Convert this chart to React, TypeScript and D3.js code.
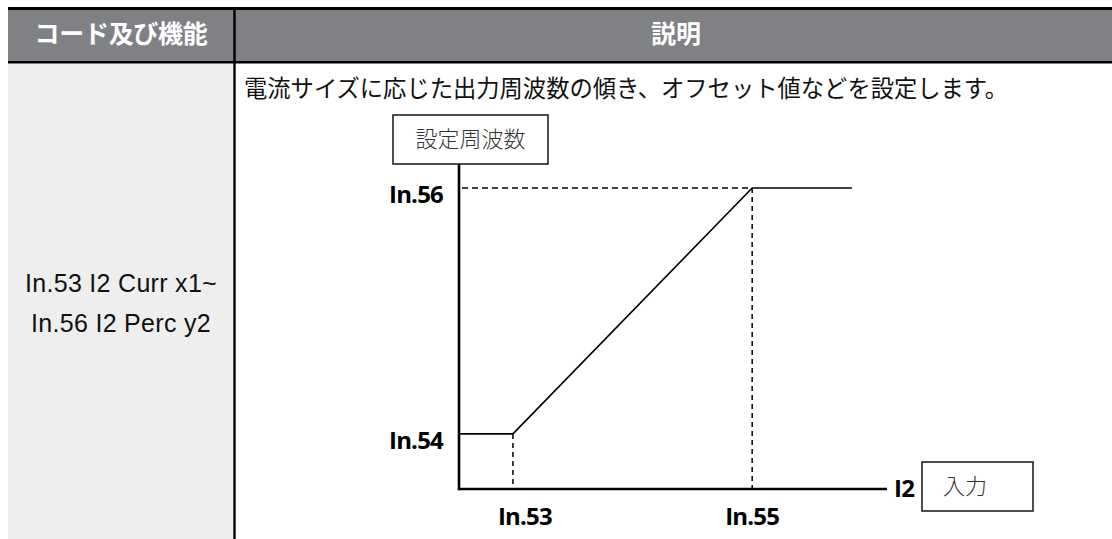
import React from "react";
import * as d3 from "d3";

// ---- data ----
const headerLabels = ["コード及び機能", "説明"];
const codeLines = ["In.53 I2 Curr x1~", "In.56 I2 Perc y2"];
const description = "電流サイズに応じた出力周波数の傾き、オフセット値などを設定します。";
const curveX = [0, 12.6, 68.5, 91.8];
const curveY = [18.3, 18.3, 100, 100];
const xTickLabels = ["In.53", "In.55"];
const xTickValues = [12.6, 68.5];
const yTickLabels = ["In.54", "In.56"];
const yTickValues = [18.3, 100];
const yAxisLabel = "設定周波数";
const xAxisName = "I2";
const xAxisLabel = "入力";

const W = 1112;
const H = 539;

export default function App() {
  const x = d3.scaleLinear().domain([0, 100]).range([459, 887]);
  const y = d3.scaleLinear().domain([0, 100]).range([489, 188]);
  const pts: [number, number][] = curveX.map((v, i) => [v, curveY[i]]);
  const line = d3
    .line<[number, number]>()
    .x((d) => x(d[0]))
    .y((d) => y(d[1]));

  const jp = "'Noto Sans CJK JP', sans-serif";
  const lab = "'Open Sans', sans-serif";
  const xLabelDx = [12, 0];

  return (
    <svg
      width={W}
      height={H}
      style={{ position: "absolute", left: 0, top: 0, display: "block" }}
    >
      <rect x={0} y={0} width={W} height={H} fill="#fff" />
      {/* table */}
      <rect x={8} y={10} width={W - 8} height={51} fill="#808185" />
      <rect x={8} y={63} width={225} height={H - 63} fill="#eeeeee" />
      <rect x={8} y={7} width={W - 8} height={3} fill="#000" />
      <rect x={8} y={61} width={W - 8} height={2.5} fill="#000" />
      <rect x={233.3} y={10} width={2.4} height={H - 10} fill="#000" />
      <text
        x={121}
        y={43}
        textAnchor="middle"
        fontFamily={jp}
        fontWeight={700}
        fontSize={25}
        letterSpacing={-0.3}
        fill="#fff"
      >
        {headerLabels[0]}
      </text>
      <text
        x={676}
        y={43}
        textAnchor="middle"
        fontFamily={jp}
        fontWeight={700}
        fontSize={25}
        fill="#fff"
      >
        {headerLabels[1]}
      </text>
      {codeLines.map((t, i) => (
        <text
          key={i}
          x={121}
          y={292 + i * 40}
          textAnchor="middle"
          fontFamily="'Liberation Sans', Arial, sans-serif"
          fontSize={25}
          letterSpacing={0.3}
          fill="#111"
        >
          {t}
        </text>
      ))}
      <text x={244} y={97} fontFamily={jp} fontSize={23.3} fill="#111">
        {description}
      </text>

      {/* chart */}
      {/* dashed guides */}
      <line
        x1={x(0) + 3}
        x2={x(xTickValues[1])}
        y1={y(yTickValues[1])}
        y2={y(yTickValues[1])}
        stroke="#000"
        strokeWidth={1.5}
        strokeDasharray="6,4"
      />
      {xTickValues.map((v, i) => (
        <line
          key={i}
          x1={x(v)}
          x2={x(v)}
          y1={y(curveY[i === 0 ? 1 : 2])}
          y2={y(0)}
          stroke="#000"
          strokeWidth={1.5}
          strokeDasharray="5,4"
        />
      ))}
      <path d={line(pts) || ""} fill="none" stroke="#000" strokeWidth={1.6} />
      {/* axes */}
      <line x1={x(0)} x2={x(0)} y1={y(0) + 1.3} y2={y(108)} stroke="#000" strokeWidth={2.6} />
      <line x1={x(0)} x2={x(100)} y1={y(0)} y2={y(0)} stroke="#000" strokeWidth={2.6} />

      {yTickValues.map((v, i) => (
        <text
          key={i}
          x={443}
          y={y(v) + 15}
          textAnchor="end"
          fontFamily={lab}
          fontWeight={700}
          fontSize={24}
          letterSpacing={-0.8}
          fill="#000"
        >
          {yTickLabels[i]}
        </text>
      ))}
      {xTickValues.map((v, i) => (
        <text
          key={i}
          x={x(v) + xLabelDx[i]}
          y={y(0) + 36}
          textAnchor="middle"
          fontFamily={lab}
          fontWeight={700}
          fontSize={24}
          letterSpacing={-0.8}
          fill="#000"
        >
          {xTickLabels[i]}
        </text>
      ))}
      <text
        x={x(100) + 7}
        y={y(0) + 8}
        fontFamily={lab}
        fontWeight={700}
        fontSize={24}
        letterSpacing={-0.8}
        fill="#000"
      >
        {xAxisName}
      </text>

      {/* label boxes */}
      <rect x={393} y={115} width={155} height={49} fill="#fff" stroke="#222" strokeWidth={1.6} />
      <text
        x={470.5}
        y={147}
        textAnchor="middle"
        fontFamily={jp}
        fontWeight={300}
        fontSize={22}
        fill="#333"
      >
        {yAxisLabel}
      </text>
      <rect x={922} y={462} width={111} height={49} fill="#fff" stroke="#222" strokeWidth={1.6} />
      <text
        x={965}
        y={494}
        textAnchor="middle"
        fontFamily={jp}
        fontWeight={300}
        fontSize={22}
        fill="#333"
      >
        {xAxisLabel}
      </text>
    </svg>
  );
}
